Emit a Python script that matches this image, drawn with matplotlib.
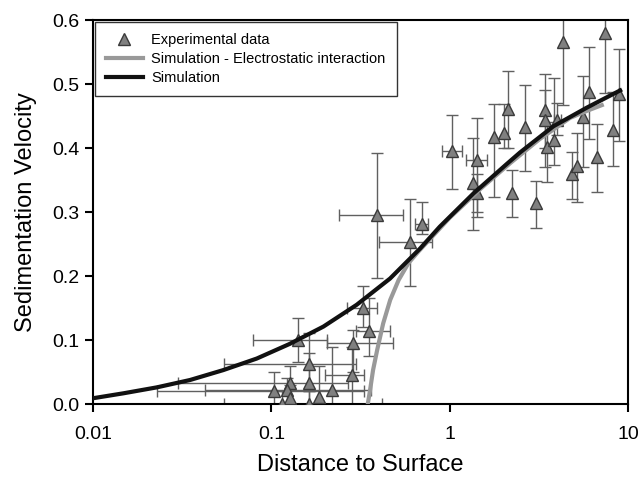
import numpy as np
import matplotlib as mpl
mpl.use("Agg")
import matplotlib.pyplot as plt

plt.rcParams['font.family'] = ['Liberation Sans', 'DejaVu Sans']

### Experimental data (distance, velocity, error bounds)
dist = [0.39, 0.60, 0.70, 0.327, 0.353, 0.287, 0.284, 0.141, 0.163, 0.163,
        0.185, 0.219, 0.163, 0.127, 0.104, 0.123, 0.127, 0.115,
        1.03, 1.43, 1.35, 1.43, 1.77, 2.02, 2.13, 2.24, 2.65, 3.05,
        3.43, 3.43, 3.52, 3.85, 4.0, 4.33, 4.86, 5.18, 5.6, 6.06,
        6.7, 7.44, 8.25, 8.9]
vel = [0.295, 0.253, 0.281, 0.150, 0.114, 0.095, 0.045, 0.100, 0.0625, 0.033,
       0.011, 0.022, 0.0, 0.033, 0.020, 0.022, 0.010, 0.0,
       0.395, 0.381, 0.345, 0.330, 0.417, 0.423, 0.461, 0.330, 0.433, 0.314,
       0.459, 0.444, 0.402, 0.412, 0.444, 0.566, 0.359, 0.372, 0.448, 0.4875,
       0.386, 0.580, 0.428, 0.484]
vel_lo = [0.197, 0.184, 0.265, 0.120, 0.075, 0.050, 0.0, 0.066, 0.020, 0.0,
          0.0, 0.0, 0.0, 0.0, 0.0, 0.0, 0.0, 0.0,
          0.336, 0.292, 0.272, 0.300, 0.323, 0.400, 0.400, 0.292, 0.364, 0.275,
          0.370, 0.400, 0.347, 0.373, 0.420, 0.467, 0.320, 0.315, 0.371, 0.414,
          0.331, 0.486, 0.372, 0.411]
vel_hi = [0.392, 0.320, 0.316, 0.184, 0.166, 0.116, 0.089, 0.134, 0.111, 0.080,
          0.060, 0.089, 0.020, 0.060, 0.050, 0.040, 0.030, 0.020,
          0.452, 0.447, 0.416, 0.360, 0.469, 0.469, 0.520, 0.366, 0.498, 0.348,
          0.516, 0.490, 0.440, 0.510, 0.470, 0.620, 0.394, 0.423, 0.512, 0.558,
          0.4375, 0.640, 0.4875, 0.555]
# horizontal error bounds (None = no horizontal error)
dist_lo = [0.24, 0.40, 0.64, 0.267, 0.30, 0.205, 0.20, 0.079, 0.054, 0.030,
           None, None, None, None, 0.023, 0.0425, None, 0.054,
           0.91, 1.24, None, None, None, None, None, None, None, None,
           None, None, None, None, 3.85, None, None, None, None, None,
           None, None, None, None]
dist_hi = [0.55, 0.80, 0.76, 0.39, 0.46, 0.48, 0.33, 0.205, 0.30, 0.27,
           None, None, None, None, 0.33, 0.36, None, 0.42,
           1.17, 1.63, None, None, None, None, None, None, None, None,
           None, None, None, None, 4.2, None, None, None, None, None,
           None, None, None, None]

### Simulation curves
sim_x = [0.01, 0.0148, 0.0228, 0.035, 0.0538, 0.0828, 0.127, 0.196, 0.301, 0.463,
         0.683, 0.88, 1.36, 2.09, 2.48, 3.82, 5.87, 9.04]
sim_y = [0.009, 0.0167, 0.026, 0.0375, 0.053, 0.071, 0.094, 0.121, 0.155, 0.196,
         0.243, 0.277, 0.329, 0.375, 0.393, 0.434, 0.463, 0.490]

elec_x = [0.3475, 0.358, 0.372, 0.392, 0.424, 0.464, 0.518, 0.587, 0.667, 1.0,
          1.5, 2.2, 3.2, 4.73, 6.0, 7.13]
elec_y = [0.0, 0.022, 0.053, 0.084, 0.126, 0.1625, 0.194, 0.220, 0.238, 0.291,
          0.337, 0.377, 0.414, 0.447, 0.459, 0.467]

fig = plt.figure(figsize=(6.4, 4.78), dpi=100)
ax = fig.add_axes([0.1453, 0.1548, 0.8359, 0.8033])

# error bars
for i in range(len(dist)):
    yerr = [[vel[i] - vel_lo[i]], [vel_hi[i] - vel[i]]]
    xerr = None
    if dist_lo[i] is not None:
        xerr = [[dist[i] - dist_lo[i]], [dist_hi[i] - dist[i]]]
    ax.errorbar(dist[i], vel[i], yerr=yerr, xerr=xerr, fmt='none',
                ecolor='#606060', elinewidth=1.0, capsize=4.3, capthick=1.0, zorder=2)

ax.plot(dist, vel, linestyle='none', marker='^', markersize=8,
        markerfacecolor='#808080', markeredgecolor='#3a3a3a', markeredgewidth=1.0,
        label='Experimental data', zorder=3)
ax.plot(elec_x, elec_y, color='#999999', linewidth=3, zorder=4,
        solid_joinstyle='round', label='Simulation - Electrostatic interaction')
ax.plot(sim_x, sim_y, color='#111111', linewidth=3, zorder=5,
        solid_joinstyle='round', label='Simulation')

ax.set_xscale('log')
ax.set_xlim(0.01, 10)
ax.set_ylim(0, 0.6)
ax.set_xticks([0.01, 0.1, 1, 10])
ax.set_xticklabels(['0.01', '0.1', '1', '10'])
ax.xaxis.set_minor_locator(mpl.ticker.NullLocator())
ax.set_yticks(np.arange(0, 0.61, 0.1))
ax.yaxis.set_major_formatter(mpl.ticker.FormatStrFormatter('%.1f'))
ax.tick_params(labelsize=14, width=1.5, length=6, direction='out')
ax.tick_params(axis='x', pad=10)
for s in ax.spines.values():
    s.set_linewidth(1.5)

ax.set_xlabel('Distance to Surface', fontsize=17, labelpad=8)
ax.set_ylabel('Sedimentation Velocity', fontsize=17, labelpad=11)

leg = ax.legend(loc='upper left', fontsize=10.5, fancybox=False, edgecolor='#333333',
                framealpha=1, borderaxespad=0.15, borderpad=0.75, labelspacing=0.33,
                handlelength=2.5, handletextpad=0.6)
leg.get_frame().set_linewidth(1.0)

plt.savefig('out.png', dpi=100)
